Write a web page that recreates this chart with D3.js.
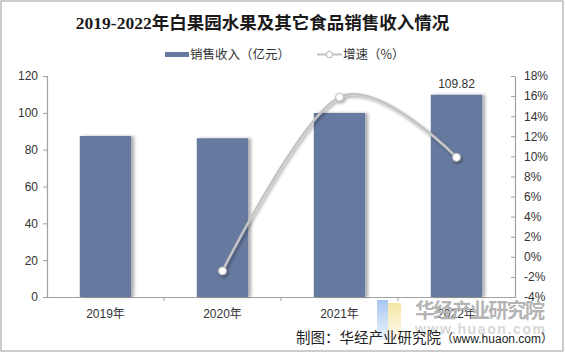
<!DOCTYPE html>
<html>
<head>
<meta charset="utf-8">
<script src="https://d3js.org/d3.v7.min.js"></script>
<style>
  body { margin: 0; background: #fff; }
  svg text { font-family: "Liberation Sans", Arial, "Noto Sans CJK SC", sans-serif; }
</style>
</head>
<body>
<svg id="chart" width="565" height="354"></svg>
<script>
// data
const years = ["2019年", "2020年", "2021年", "2022年"];
const revenue = [87.4, 86.2, 99.9, 109.82];
const growth = [null, -1.4, 15.9, 9.9];
const leftTicks = [0, 20, 40, 60, 80, 100, 120];
const rightTicks = [-4, -2, 0, 2, 4, 6, 8, 10, 12, 14, 16, 18];

const svg = d3.select("svg#chart");
const W = +svg.attr("width"), H = +svg.attr("height");
const plotLeft = 47, plotRight = 515, plotTop = 76, plotBottom = 297;

// border
svg.append("rect").attr("x", 1).attr("y", 1).attr("width", W - 3).attr("height", H - 4)
  .attr("fill", "#fff").attr("stroke", "#9a9a9a").attr("stroke-width", 1);

const defs = svg.append("defs");
defs.append("filter").attr("id", "barShadow").attr("x", "-20%").attr("width", "150%")
  .append("feDropShadow").attr("dx", 3).attr("dy", 0).attr("stdDeviation", 1.6)
  .attr("flood-color", "#000").attr("flood-opacity", 0.3);
defs.append("filter").attr("id", "lineShadow").attr("x", "-10%").attr("y", "-10%")
  .attr("width", "130%").attr("height", "130%")
  .append("feDropShadow").attr("dx", 1.5).attr("dy", 2).attr("stdDeviation", 1.5)
  .attr("flood-color", "#000").attr("flood-opacity", 0.35);
// logo fade
const fadeB = defs.append("linearGradient").attr("id", "fadeB").attr("x1", 0).attr("x2", 0).attr("y1", 0).attr("y2", 1);
fadeB.append("stop").attr("offset", "0%").attr("stop-color", "#9cc0ee").attr("stop-opacity", 0.9);
fadeB.append("stop").attr("offset", "100%").attr("stop-color", "#9cc0ee").attr("stop-opacity", 0.15);
const fadeY = defs.append("linearGradient").attr("id", "fadeY").attr("x1", 0).attr("x2", 0).attr("y1", 0).attr("y2", 1);
fadeY.append("stop").attr("offset", "0%").attr("stop-color", "#f6e39a").attr("stop-opacity", 0.9);
fadeY.append("stop").attr("offset", "100%").attr("stop-color", "#f6e39a").attr("stop-opacity", 0.15);

const x = d3.scaleBand().domain(years).range([plotLeft, plotRight]).paddingInner(0.56).paddingOuter(0.28);
const yL = d3.scaleLinear().domain([0, 120]).range([plotBottom, plotTop]);
const yR = d3.scaleLinear().domain([-4, 18]).range([plotBottom, plotTop]);

// title
svg.append("text").attr("x", W / 2 - 20).attr("y", 29).attr("text-anchor", "middle")
  .style("font-family", "'Liberation Serif', 'DejaVu Serif', 'Noto Sans CJK SC', serif")
  .style("font-weight", "bold").style("font-size", "17.5px").attr("fill", "#1a1a1a")
  .text("2019-2022年白果园水果及其它食品销售收入情况");

// legend
const lg = svg.append("g").style("font-size", "12.5px").attr("fill", "#333");
lg.append("rect").attr("x", 165).attr("y", 52).attr("width", 24).attr("height", 5).attr("fill", "#66799f");
lg.append("text").attr("x", 190).attr("y", 59).text("销售收入（亿元）")
  .style("font-family", "'Noto Sans CJK SC', sans-serif");
lg.append("line").attr("x1", 317).attr("x2", 342).attr("y1", 54.5).attr("y2", 54.5)
  .attr("stroke", "#c0c0c0").attr("stroke-width", 2);
lg.append("circle").attr("cx", 329.5).attr("cy", 54.5).attr("r", 3.2)
  .attr("fill", "#fff").attr("stroke", "#b0b0b0");
lg.append("text").attr("x", 343).attr("y", 59).text("增速（%）")
  .style("font-family", "'Noto Sans CJK SC', sans-serif");

// axes
const axisColor = "#a0a0a0";
const gL = svg.append("g").attr("transform", `translate(${plotLeft},0)`)
  .call(d3.axisLeft(yL).tickValues(leftTicks).tickSize(4).tickPadding(5));
const gR = svg.append("g").attr("transform", `translate(${plotRight},0)`)
  .call(d3.axisRight(yR).tickValues(rightTicks).tickSize(0).tickPadding(9)
    .tickFormat(d => d + "%"));
gR.selectAll(".tick").append("line").attr("x1", -4).attr("x2", 0);
const gX = svg.append("g").attr("transform", `translate(0,${plotBottom})`)
  .call(d3.axisBottom(x).tickSize(0).tickPadding(12));
gX.selectAll(".tick text").style("font-family", "'Liberation Sans', 'Noto Sans CJK SC', sans-serif");
// category separators on the x axis
years.slice(1).forEach(c => {
  gX.append("line").attr("x1", x(c) - x.step() * x.paddingInner() / 2)
    .attr("x2", x(c) - x.step() * x.paddingInner() / 2)
    .attr("y1", 0).attr("y2", 4).attr("stroke", axisColor);
});
[gL, gR, gX].forEach(g => {
  g.select(".domain").attr("stroke", axisColor).attr("stroke-width", 1.2);
  g.selectAll(".tick line").attr("stroke", axisColor);
  g.selectAll(".tick text").attr("fill", "#333").style("font-size", "12px");
});

// bars
svg.append("g").selectAll("rect").data(revenue).join("rect")
  .attr("x", (d, i) => x(years[i])).attr("width", x.bandwidth())
  .attr("y", d => yL(d)).attr("height", d => plotBottom - yL(d))
  .attr("fill", "#66799f").attr("filter", "url(#barShadow)");

// data label
svg.append("text").attr("x", x(years[3]) + x.bandwidth() / 2).attr("y", yL(revenue[3]) - 7)
  .attr("text-anchor", "middle").style("font-size", "12px").attr("fill", "#333")
  .text(revenue[3].toFixed(2));

// growth line
const pts = growth.map((g, i) => ({ year: years[i], g })).filter(d => d.g !== null);
const line = d3.line().x(d => x(d.year) + x.bandwidth() / 2).y(d => yR(d.g))
  .curve(d3.curveCardinal.tension(0));
const lineG = svg.append("g").attr("filter", "url(#lineShadow)");
lineG.append("path").datum(pts).attr("d", line).attr("fill", "none")
  .attr("stroke", "#c4c4c4").attr("stroke-width", 2.5);
lineG.selectAll("circle").data(pts).join("circle")
  .attr("cx", d => x(d.year) + x.bandwidth() / 2).attr("cy", d => yR(d.g)).attr("r", 4)
  .attr("fill", "#fff").attr("stroke", "#b8b8b8").attr("stroke-width", 1);

// watermark
const wm = svg.append("g");
wm.append("rect").attr("x", 377).attr("y", 300).attr("width", 11).attr("height", 40).attr("fill", "url(#fadeB)");
wm.append("rect").attr("x", 388).attr("y", 303).attr("width", 13).attr("height", 37).attr("fill", "url(#fadeY)");
wm.append("text").attr("x", 415).attr("y", 318).style("font-size", "20px").style("font-weight", "bold")
  .style("font-family", "'Noto Sans CJK SC', sans-serif").attr("fill", "#b4b4b4")
  .attr("textLength", 130).text("华经产业研究院");
wm.append("text").attr("x", 415).attr("y", 334).style("font-size", "14px").style("font-weight", "bold")
  .attr("fill", "#d8d8d8").attr("textLength", 130).text("www.huaon.com");

// source
const src = svg.append("text").attr("x", 553).attr("y", 343).attr("text-anchor", "end").attr("fill", "#222");
src.append("tspan").style("font-size", "14.5px")
  .style("font-family", "'Noto Sans CJK SC', sans-serif").text("制图：华经产业研究院");
src.append("tspan").style("font-size", "12px")
  .style("font-family", "'Liberation Sans', 'Noto Sans CJK SC', sans-serif").text("（www.huaon.com）");
</script>
</body>
</html>
